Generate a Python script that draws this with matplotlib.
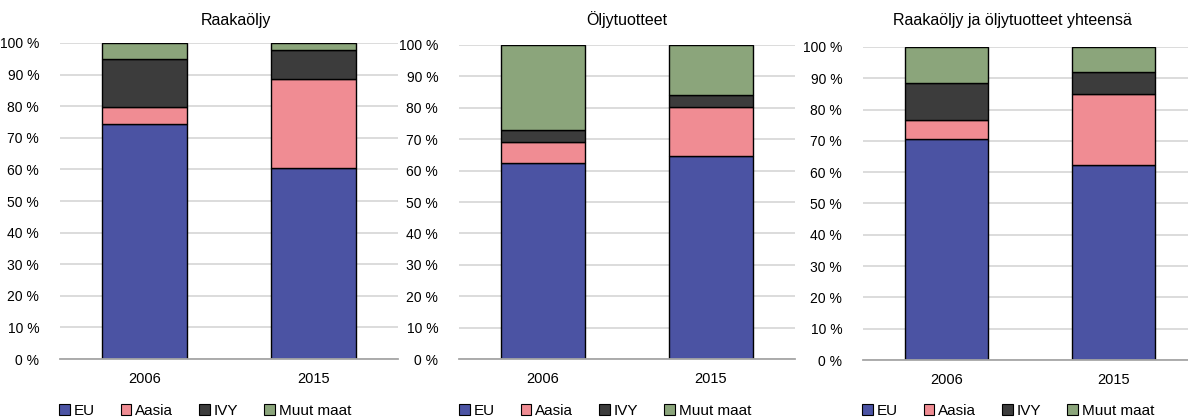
import numpy as np
import matplotlib
matplotlib.use("Agg")
import matplotlib.pyplot as plt

# --- data (osuudet, %) ---
years = ["2006", "2015"]
series = ["EU", "Aasia", "IVY", "Muut maat"]
titles = ["Raakaöljy", "Öljytuotteet", "Raakaöljy ja öljytuotteet yhteensä"]

raaka_eu = [74.3, 60.5]
raaka_aasia = [5.6, 28.0]
raaka_ivy = [14.9, 9.4]
raaka_muut = [5.2, 2.1]

tuote_eu = [62.4, 64.6]
tuote_aasia = [6.6, 15.7]
tuote_ivy = [3.8, 3.9]
tuote_muut = [27.2, 15.8]

yht_eu = [70.7, 62.3]
yht_aasia = [6.0, 22.7]
yht_ivy = [11.7, 7.1]
yht_muut = [11.6, 7.9]

panels = [
    [raaka_eu, raaka_aasia, raaka_ivy, raaka_muut],
    [tuote_eu, tuote_aasia, tuote_ivy, tuote_muut],
    [yht_eu, yht_aasia, yht_ivy, yht_muut],
]

colors = ["#4B53A3", "#F08C93", "#3C3C3C", "#8BA57B"]

plt.rcParams["font.family"] = ["Liberation Sans", "DejaVu Sans"]

W, H = 1188, 419
fig = plt.figure(figsize=(W / 100, H / 100), dpi=100)

# plot areas in pixels: left, right, top, bottom
boxes = [(60, 398, 43, 359), (459, 795, 45, 359), (863, 1197, 47, 360)]
title_x = [236, 627, 1012]
legend_x = [59, 459, 862]

for i, (data, box) in enumerate(zip(panels, boxes)):
    l, r, t, b = box
    ax = fig.add_axes([l / W, (H - b) / H, (r - l) / W, (b - t) / H])
    x = np.arange(len(years))
    bottom = np.zeros(len(years))
    for vals, name, c in zip(data, series, colors):
        ax.bar(x, vals, 0.5, bottom=bottom, color=c, edgecolor="black",
               linewidth=1.0, label=name, zorder=3)
        bottom += np.array(vals)

    ax.set_xlim(-0.5, 1.5)
    ax.set_ylim(0, 100)
    ax.set_yticks(np.arange(0, 101, 10))
    ax.set_yticklabels([f"{v} %" for v in range(0, 101, 10)], fontsize=10)
    ax.set_xticks(x)
    ax.set_xticklabels(years, fontsize=10.5)
    ax.tick_params(axis="y", length=0, pad=15)
    ax.tick_params(axis="x", length=0, pad=9)
    ax.grid(axis="y", color="#D9D9D9", linewidth=1.3, zorder=0)
    for s in ["top", "right", "left"]:
        ax.spines[s].set_visible(False)
    ax.spines["bottom"].set_color("#A6A6A6")
    ax.spines["bottom"].set_linewidth(1.3)
    ax.spines["bottom"].set_zorder(4)

    fig.text(title_x[i] / W, 1 - 20 / H, titles[i], ha="center", va="center",
             fontsize=11.5)

    ax.legend(loc="center left",
              bbox_to_anchor=((legend_x[i] - l) / (r - l), -(411 - b) / (b - t)),
              ncol=4, frameon=False, fontsize=11, handlelength=0.7,
              handleheight=0.7, handletextpad=0.25, columnspacing=1.7,
              borderaxespad=0, borderpad=0)
    for h in ax.get_legend().legend_handles:
        h.set_linewidth(0.8)

fig.savefig("out.png", dpi=100)
